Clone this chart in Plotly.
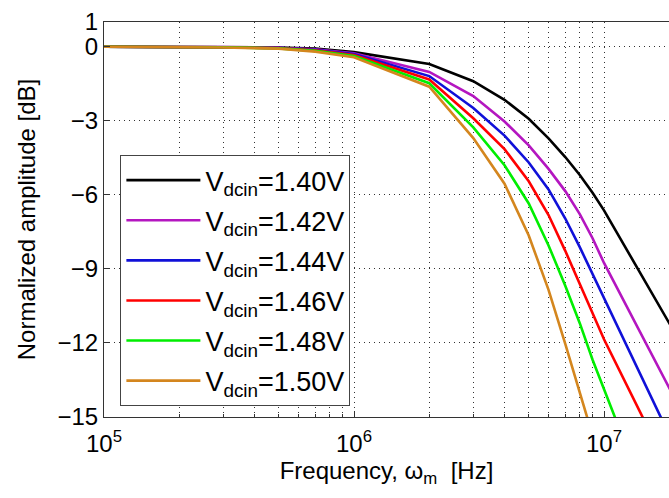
import plotly.graph_objects as go

# Frequency samples [Hz]
freq = [1e5, 2e5, 3e5, 5e5, 7e5, 1e6, 2e6, 3e6, 4e6, 5e6, 6e6, 7e6, 8e6, 9e6, 1e7, 2e7]

# Normalized amplitude [dB] for each Vdcin
amp_140 = [0, 0, -0.01, -0.03, -0.08, -0.22, -0.70, -1.40, -2.15, -2.92, -3.71, -4.47, -5.20, -5.92, -6.63, -11.9]
amp_142 = [0, 0, -0.01, -0.04, -0.11, -0.27, -1.02, -2.00, -3.03, -4.00, -4.95, -5.85, -6.78, -7.76, -8.76, -14.6]
amp_144 = [0, -0.01, -0.02, -0.05, -0.13, -0.30, -1.19, -2.48, -3.60, -4.69, -5.78, -6.96, -8.12, -9.21, -10.18, -16.58]
amp_146 = [0, -0.01, -0.02, -0.06, -0.15, -0.34, -1.33, -2.90, -4.15, -5.45, -6.82, -8.27, -9.62, -10.77, -11.85, -18.0]
amp_148 = [0, -0.01, -0.02, -0.07, -0.17, -0.38, -1.48, -3.27, -4.80, -6.35, -8.05, -9.68, -11.20, -12.68, -13.93, -21.7]
amp_150 = [0, -0.01, -0.03, -0.08, -0.20, -0.43, -1.62, -3.70, -5.55, -7.65, -9.85, -12.04, -14.00, -15.80, -17.30, -25.0]

series_names = ["V<sub>dcin</sub>=1.40V", "V<sub>dcin</sub>=1.42V", "V<sub>dcin</sub>=1.44V",
                "V<sub>dcin</sub>=1.46V", "V<sub>dcin</sub>=1.48V", "V<sub>dcin</sub>=1.50V"]
series_vals = [amp_140, amp_142, amp_144, amp_146, amp_148, amp_150]
series_colors = ["#000000", "#b416c0", "#1010d8", "#ff0000", "#00ee00", "#d4861e"]

y_ticks = [1, 0, -3, -6, -9, -12, -15]
x_ticks = [1e5, 1e6, 1e7]
x_tick_text = ["10<sup>5</sup>", "10<sup>6</sup>", "10<sup>7</sup>"]

fig = go.Figure()
for i, (name, vals, col) in enumerate(zip(series_names, series_vals, series_colors)):
    fig.add_trace(go.Scatter(x=freq, y=vals, mode="lines", name=name,
                             line=dict(color=col, width=2.6),
                             legendgroup=f"g{i}"))

font_family = "Liberation Sans, Arial, sans-serif"
grid_dash = "1px,4px"

fig.update_layout(
    width=669, height=498,
    margin=dict(l=104, r=0, t=22, b=81),
    paper_bgcolor="white", plot_bgcolor="white",
    font=dict(family=font_family, size=24, color="black"),
    showlegend=True,
    legend=dict(x=0.029, y=0.663, xanchor="left", yanchor="top",
                bgcolor="white", bordercolor="#444", borderwidth=1,
                font=dict(size=27), itemwidth=74, tracegroupgap=2,
                traceorder="grouped"),
    xaxis=dict(type="log", range=[5, 7.26], tickvals=x_ticks, ticktext=x_tick_text,
               ticks="inside", ticklen=6, tickcolor="#333", ticklabelstandoff=5,
               showline=True, linecolor="#333", linewidth=1, mirror=True,
               showgrid=True, gridcolor="#333", griddash=grid_dash, gridwidth=1,
               minor=dict(dtick="D1", ticks="inside", ticklen=3, tickcolor="#333",
                          showgrid=True, gridcolor="#333", griddash=grid_dash, gridwidth=1),
               title=dict(text="Frequency, ω<sub>m</sub>  [Hz]", font=dict(size=24), standoff=2),
               tickfont=dict(size=24), zeroline=False, automargin=False),
    yaxis=dict(range=[-15, 1], tickvals=y_ticks,
               ticks="inside", ticklen=6, tickcolor="#333",
               showline=True, linecolor="#333", linewidth=1, mirror=False,
               showgrid=True, gridcolor="#333", griddash=grid_dash, gridwidth=1,
               zeroline=False, automargin=False,
               title=dict(text="Normalized amplitude [dB]", font=dict(size=24), standoff=15),
               tickfont=dict(size=24)),
)

fig.write_html("out.html", config={"displayModeBar": False},
               post_script="document.body.style.margin='0';document.body.style.overflow='hidden';")
